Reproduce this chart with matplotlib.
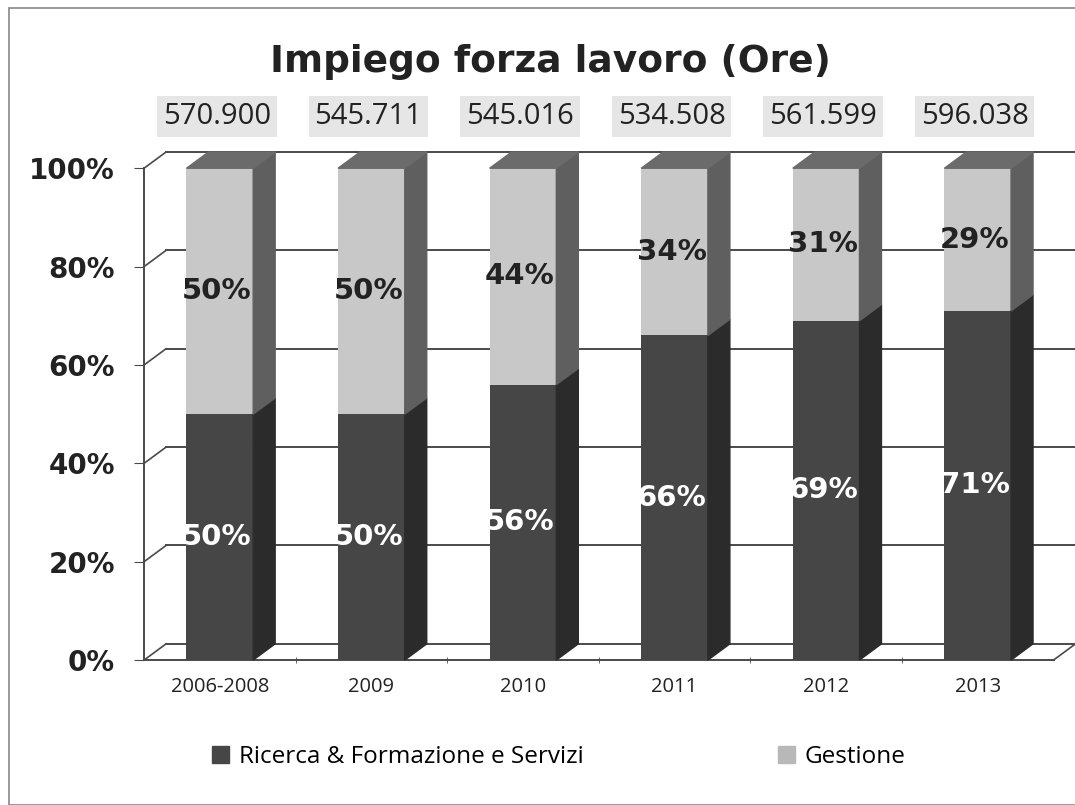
import numpy as np
import matplotlib.pyplot as plt
from matplotlib.patches import Polygon, Rectangle

# Data
categories = ["2006-2008", "2009", "2010", "2011", "2012", "2013"]
ricerca = [50, 50, 56, 66, 69, 71]
gestione = [50, 50, 44, 34, 31, 29]
totals = ["570.900", "545.711", "545.016", "534.508", "561.599", "596.038"]

# Colours (greyscale scan look)
dark_front, dark_side = "#464646", "#2b2b2b"
light_front, light_side, light_top = "#c8c8c8", "#5f5f5f", "#6b6b6b"
grid_col = "#4a4a4a"

fig = plt.figure(figsize=(10.75, 8.05), dpi=100)
ax = fig.add_axes([0.134, 0.180, 0.846, 0.611])

x = np.arange(len(categories))
w = 0.44
# fake 3D depth in data units
dx, dy = 0.145, 3.3

ax.set_xlim(-0.5, len(categories) - 0.5)
ax.set_ylim(0, 100)

# back wall gridlines + connectors
for g in range(0, 101, 20):
    ax.plot([-0.5 + dx, len(categories) - 0.5 + dx + 0.2], [g + dy, g + dy],
            color=grid_col, lw=1.4, zorder=1, clip_on=False)
    ax.plot([-0.5, -0.5 + dx], [g, g + dy], color=grid_col, lw=1.2,
            zorder=1, clip_on=False)
# floor right diagonal
ax.plot([len(categories) - 0.5, len(categories) - 0.5 + dx], [0, dy],
        color=grid_col, lw=1.2, clip_on=False)

# front faces
ax.bar(x, ricerca, width=w, color=dark_front, zorder=3)
ax.bar(x, gestione, width=w, bottom=ricerca, color=light_front, zorder=3)

# side and top faces
for xi, r, gs in zip(x, ricerca, gestione):
    xr = xi + w / 2
    ax.add_patch(Polygon([(xr, 0), (xr + dx, dy), (xr + dx, r + dy), (xr, r)],
                         closed=True, color=dark_side, zorder=3, clip_on=False))
    ax.add_patch(Polygon([(xr, r), (xr + dx, r + dy), (xr + dx, r + gs + dy), (xr, r + gs)],
                         closed=True, color=light_side, zorder=3, clip_on=False))
    t = r + gs
    ax.add_patch(Polygon([(xi - w / 2, t), (xr, t), (xr + dx, t + dy), (xi - w / 2 + dx, t + dy)],
                         closed=True, color=light_top, zorder=3, clip_on=False))

# value labels
for xi, r, gs in zip(x, ricerca, gestione):
    ax.text(xi - 0.02, r / 2, f"{r}%", ha="center", va="center", fontsize=21,
            fontweight="bold", color="white", zorder=5)
    ax.text(xi - 0.02, r + gs / 2, f"{gs}%", ha="center", va="center", fontsize=21,
            fontweight="bold", color="#222222", zorder=5)

# totals above the bars
for xi, tot in zip(x, totals):
    ax.text(xi - 0.02, 110.5, tot, ha="center", va="center", fontsize=21,
            family="Open Sans", color="#222222",
            bbox=dict(boxstyle="square,pad=0.2", fc="#e6e6e6", ec="none"))

# axes styling
for s in ["top", "right"]:
    ax.spines[s].set_visible(False)
ax.spines["left"].set_color(grid_col)
ax.spines["bottom"].set_color(grid_col)
ax.spines["left"].set_linewidth(1.4)
ax.spines["bottom"].set_linewidth(1.4)

ax.set_yticks(range(0, 101, 20))
ax.set_yticklabels([f"{v}%" for v in range(0, 101, 20)], fontsize=20,
                   fontweight="semibold", color="#222222")
ax.tick_params(axis="y", length=7, pad=14, color=grid_col)
ax.set_xticks(x)
ax.set_xticklabels(categories, fontsize=14.5, family="Open Sans", color="#222222")
ax.tick_params(axis="x", length=0, pad=12)
ax.set_xticks(x[:-1] + 0.5, minor=True)
ax.tick_params(axis="x", which="minor", length=5, direction="inout", color=grid_col)

fig.suptitle("Impiego forza lavoro (Ore)", x=0.512, y=0.945, fontsize=27,
             fontweight="bold", color="#222222")

handles = [Rectangle((0, 0), 1, 1, color=dark_front),
           Rectangle((0, 0), 1, 1, color="#b8b8b8")]
fig.legend(handles, ["Ricerca & Formazione e Servizi", "Gestione"], ncol=2,
           loc="center", bbox_to_anchor=(0.52, 0.06), frameon=False,
           prop={"family": "Open Sans", "size": 17.5}, columnspacing=8,
           handlelength=0.7, handleheight=0.7, handletextpad=0.4)

# outer frame
fig.patches.append(Rectangle((0.008, 0.0), 1.1, 0.99, transform=fig.transFigure,
                             fill=False, ec="#888888", lw=1.2))

fig.savefig("out.png", dpi=100)
